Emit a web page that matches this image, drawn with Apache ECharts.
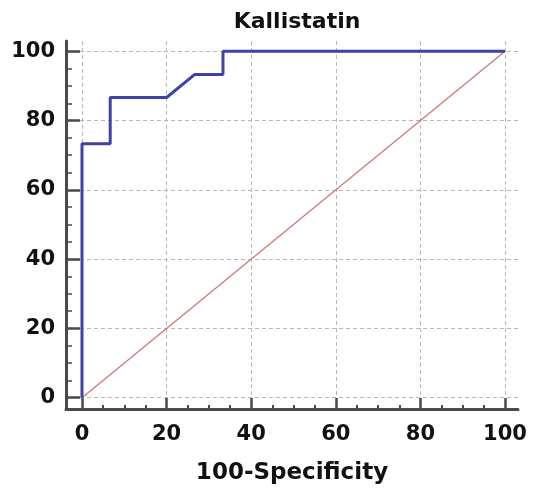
<!DOCTYPE html>
<html>
<head>
<meta charset="utf-8">
<script src="https://cdn.jsdelivr.net/npm/echarts@6/dist/echarts.min.js"></script>
<style>
  html, body { margin: 0; padding: 0; background: #fff; }
  #chart { width: 533px; height: 490px; }
</style>
</head>
<body>
<div id="chart"></div>
<script>
// ROC curve for Kallistatin: 100-Specificity (x) vs Sensitivity (y)
const rocX = [0, 0, 6.67, 6.67, 20, 26.67, 33.33, 33.33, 100];
const rocY = [0, 73.33, 73.33, 86.67, 86.67, 93.33, 93.33, 100, 100];
// Reference diagonal (no discrimination)
const diagX = [0, 100];
const diagY = [0, 100];
// Tick values
const majorTicks = [0, 20, 40, 60, 80, 100];
const minorTicks = [5, 10, 15, 25, 30, 35, 45, 50, 55, 65, 70, 75, 85, 90, 95];

const FONT = 'DejaVu Sans';
const TEXT = '#111111';
const AXIS = '#4a4a4a';

const chart = echarts.init(document.getElementById('chart'), null, { renderer: 'canvas' });

function pairs(xs, ys) { return xs.map((x, i) => [x, ys[i]]); }

function mainAxis(extra) {
  return Object.assign({
    type: 'value',
    axisLine: { show: true, onZero: false, lineStyle: { color: AXIS, width: 3 } },
    splitLine: { show: true, lineStyle: { color: '#b8b8b8', width: 1, type: [4, 3] } }
  }, extra);
}
function minorAxis(extra) {
  return Object.assign({
    type: 'value',
    axisLine: { show: false, onZero: false },
    axisLabel: { show: false },
    splitLine: { show: false }
  }, extra);
}

const option = {
  animation: false,
  backgroundColor: '#fff',
  title: {
    text: 'Kallistatin',
    left: 292, top: 6, textAlign: 'center',
    textStyle: { fontFamily: FONT, fontWeight: 'bold', fontSize: 22, color: TEXT }
  },
  grid: { left: 66, right: 15, top: 41, bottom: 76 },
  xAxis: [
    mainAxis({
      min: -3.78, max: 103.07, position: 'bottom',
      axisTick: { show: true, inside: true, length: 11, customValues: majorTicks, lineStyle: { color: AXIS, width: 2.5 } },
      axisLabel: { customValues: majorTicks, margin: 15, color: TEXT, fontFamily: FONT, fontWeight: 'bold', fontSize: 21 },
      name: '100-Specificity', nameLocation: 'middle', nameGap: 53,
      nameTextStyle: { fontFamily: FONT, fontWeight: 'bold', fontSize: 23, color: TEXT }
    }),
    minorAxis({ min: -3.78, max: 103.07, position: 'bottom',
      axisTick: { show: true, inside: true, length: 4, customValues: minorTicks, lineStyle: { color: AXIS, width: 2 } } })
  ],
  yAxis: [
    mainAxis({
      min: -3.28, max: 102.99, position: 'left',
      axisTick: { show: true, inside: true, length: 14, customValues: majorTicks, lineStyle: { color: AXIS, width: 2.5 } },
      axisLabel: { customValues: majorTicks, margin: 11, color: TEXT, fontFamily: FONT, fontWeight: 'bold', fontSize: 21 }
    }),
    minorAxis({ min: -3.28, max: 102.99, position: 'left',
      axisTick: { show: true, inside: true, length: 6, customValues: minorTicks, lineStyle: { color: AXIS, width: 1.5 } } })
  ],
  series: [
    {
      type: 'line', xAxisIndex: 0, yAxisIndex: 0,
      data: pairs(diagX, diagY),
      showSymbol: false, symbol: 'none',
      lineStyle: { color: '#c97a78', width: 1.3 },
      z: 2
    },
    {
      type: 'line', xAxisIndex: 0, yAxisIndex: 0,
      data: pairs(rocX, rocY),
      showSymbol: false, symbol: 'none',
      lineStyle: { color: '#3f42a6', width: 3 },
      z: 3
    }
  ]
};

chart.setOption(option);
</script>
</body>
</html>
